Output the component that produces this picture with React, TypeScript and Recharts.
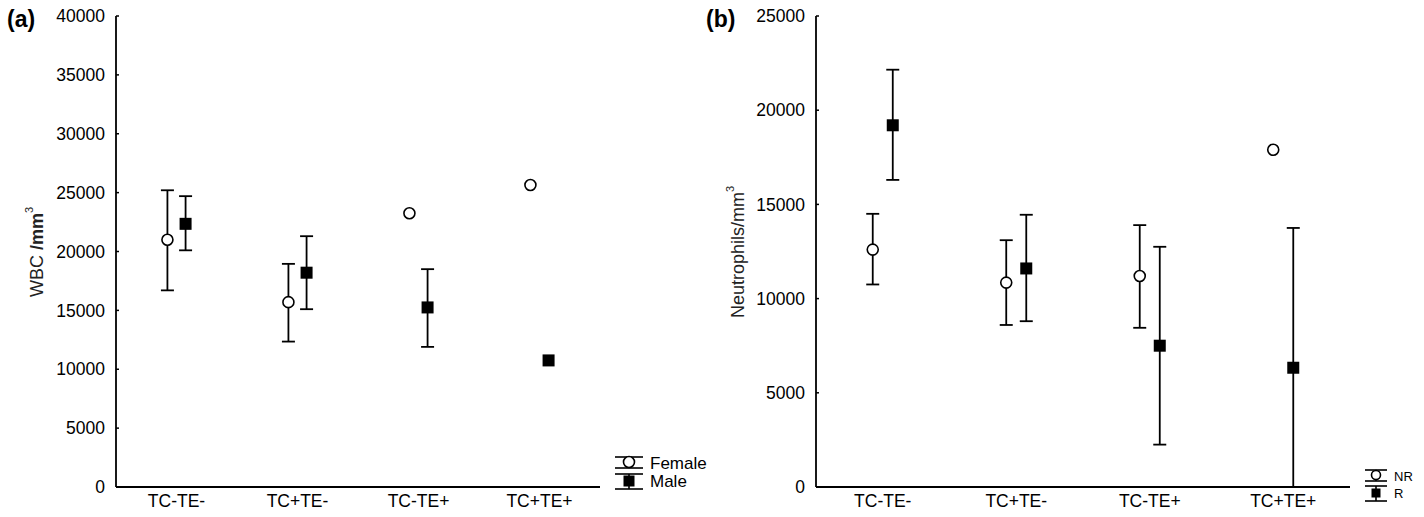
import { ComposedChart, Scatter, ErrorBar, XAxis, YAxis, Label } from "recharts";

const categories = ["TC-TE-", "TC+TE-", "TC-TE+", "TC+TE+"];

// (a) WBC by sex
const wbcFemaleMean = [21000, 15700, 23250, 25650];
const wbcFemaleLow = [16700, 12350, null, null];
const wbcFemaleHigh = [25200, 18950, null, null];
const wbcMaleMean = [22350, 18200, 15250, 10750];
const wbcMaleLow = [20100, 15100, 11900, null];
const wbcMaleHigh = [24700, 21300, 18500, null];
const wbcTicks = [0, 5000, 10000, 15000, 20000, 25000, 30000, 35000, 40000];

// (b) Neutrophils by response
const neuNRMean = [12600, 10850, 11200, 17900];
const neuNRLow = [10750, 8600, 8450, null];
const neuNRHigh = [14500, 13100, 13900, null];
const neuRMean = [19200, 11600, 7500, 6330];
const neuRLow = [16300, 8800, 2250, 0];
const neuRHigh = [22150, 14450, 12750, 13750];
const neuTicks = [0, 5000, 10000, 15000, 20000, 25000];

const DODGE = 0.075;
const FONT = "'Liberation Sans', Arial, sans-serif";

const buildSeries = (mean: number[], low: (number | null)[], high: (number | null)[], shift: number) =>
  mean.map((v, i) => ({
    x: i + 1 + shift,
    y: v,
    err: low[i] == null || high[i] == null ? undefined : [v - (low[i] as number), (high[i] as number) - v],
  }));

const OpenCircle = ({ cx, cy }: any) => (
  <circle cx={cx} cy={cy} r={5.5} fill="#fff" stroke="#000" strokeWidth={1.6} />
);

const FilledSquare = ({ cx, cy }: any) => <rect x={cx - 6} y={cy - 6} width={12} height={12} fill="#000" />;

const LegendIcon = ({ cx, top, bottom, mid, half, kind, size }: any) => (
  <g stroke="#000" strokeWidth={1.6}>
    <line x1={cx - half} x2={cx + half} y1={top} y2={top} />
    <line x1={cx - half} x2={cx + half} y1={bottom} y2={bottom} />
    <line x1={cx} x2={cx} y1={top} y2={bottom} />
    {kind === "circle" ? (
      <circle cx={cx} cy={mid} r={size / 2} fill="#fff" />
    ) : (
      <rect x={cx - size / 2} y={mid - size / 2} width={size} height={size} fill="#000" stroke="none" />
    )}
  </g>
);

const LegendBox = ({ names, big, left, top }: any) => {
  const half = big ? 14 : 11;
  const fs = big ? 17 : 13;
  const step = big ? 17 : 16;
  const size = big ? 11 : 9;
  return (
    <svg
      width={big ? 100 : 50}
      height={big ? 42 : 36}
      style={{ position: "absolute", left, top, overflow: "visible" }}
    >
      <LegendIcon cx={half + 1} top={2} mid={7} bottom={13} half={half} kind="circle" size={size} />
      <LegendIcon cx={half + 1} top={2 + step} mid={9 + step} bottom={17 + step} half={half} kind="square" size={size} />
      <text x={2 * half + 8} y={8} dominantBaseline="central" fontSize={fs} fontFamily={FONT} fill="#000">
        {names[0]}
      </text>
      <text x={2 * half + 8} y={8 + step + 1} dominantBaseline="central" fontSize={fs} fontFamily={FONT} fill="#000">
        {names[1]}
      </text>
    </svg>
  );
};

const AxisTitle = ({ x, y, main, bold }: any) => (
  <text
    x={x}
    y={y}
    transform={`rotate(-90, ${x}, ${y})`}
    textAnchor="middle"
    dominantBaseline="central"
    fontSize={18}
    fontFamily={FONT}
    fill="#222"
  >
    {main}
    {bold ? <tspan fontWeight="bold">{bold}</tspan> : null}
    <tspan fontSize={11} dy={-8}>
      3
    </tspan>
  </text>
);

const Panel = ({ width, marginRight, yMax, ticks, first, second, title }: any) => (
  <ComposedChart width={width} height={517} margin={{ top: 16, right: marginRight, bottom: 0, left: 56 }}>
    <XAxis
      type="number"
      dataKey="x"
      domain={[0.5, 4.5]}
      ticks={[1, 2, 3, 4]}
      tickFormatter={(v) => categories[v - 1]}
      axisLine={{ stroke: "#000", strokeWidth: 1.8 }}
      tickLine={false}
      tickSize={0}
      tickMargin={8}
      height={30}
      tick={{ fontSize: 17.5, fill: "#000", fontFamily: FONT }}
    />
    <YAxis
      type="number"
      dataKey="y"
      domain={[0, yMax]}
      ticks={ticks}
      width={60}
      axisLine={{ stroke: "#000", strokeWidth: 1.8 }}
      tickLine={{ stroke: "#000", strokeWidth: 1.5 }}
      tickSize={-3}
      tickMargin={14}
      tick={{ fontSize: 17.5, fill: "#000", fontFamily: FONT }}
    >
      <Label content={() => title} />
    </YAxis>
    <Scatter data={first} shape={<OpenCircle />} isAnimationActive={false}>
      <ErrorBar dataKey="err" direction="y" width={6.5} stroke="#000" strokeWidth={1.8} />
    </Scatter>
    <Scatter data={second} shape={<FilledSquare />} isAnimationActive={false}>
      <ErrorBar dataKey="err" direction="y" width={6.5} stroke="#000" strokeWidth={1.8} />
    </Scatter>
  </ComposedChart>
);

export default function App() {
  const wbcFemale = buildSeries(wbcFemaleMean, wbcFemaleLow, wbcFemaleHigh, -DODGE);
  const wbcMale = buildSeries(wbcMaleMean, wbcMaleLow, wbcMaleHigh, DODGE);
  const neuNR = buildSeries(neuNRMean, neuNRLow, neuNRHigh, -DODGE);
  const neuR = buildSeries(neuRMean, neuRLow, neuRHigh, DODGE);

  return (
    <div style={{ position: "absolute", left: 0, top: 0, width: 1424, height: 517, background: "#fff" }}>
      <div style={{ position: "absolute", left: 0, top: 0 }}>
        <Panel
          width={700}
          marginRight={100}
          yMax={40000}
          ticks={wbcTicks}
          first={wbcFemale}
          second={wbcMale}
          title={<AxisTitle x={37} y={252} main="WBC " bold="/mm" />}
        />
      </div>
      <div style={{ position: "absolute", left: 700, top: 0 }}>
        <Panel
          width={724}
          marginRight={74}
          yMax={25000}
          ticks={neuTicks}
          first={neuNR}
          second={neuR}
          title={<AxisTitle x={38} y={252} main="Neutrophils/mm" />}
        />
      </div>
      <LegendBox names={["Female", "Male"]} big left={614} top={455} />
      <LegendBox names={["NR", "R"]} big={false} left={1364} top={468} />
      <div style={{ position: "absolute", left: 7, top: 6, fontFamily: FONT, fontWeight: "bold", fontSize: 23 }}>
        (a)
      </div>
      <div style={{ position: "absolute", left: 706, top: 6, fontFamily: FONT, fontWeight: "bold", fontSize: 23 }}>
        (b)
      </div>
    </div>
  );
}
